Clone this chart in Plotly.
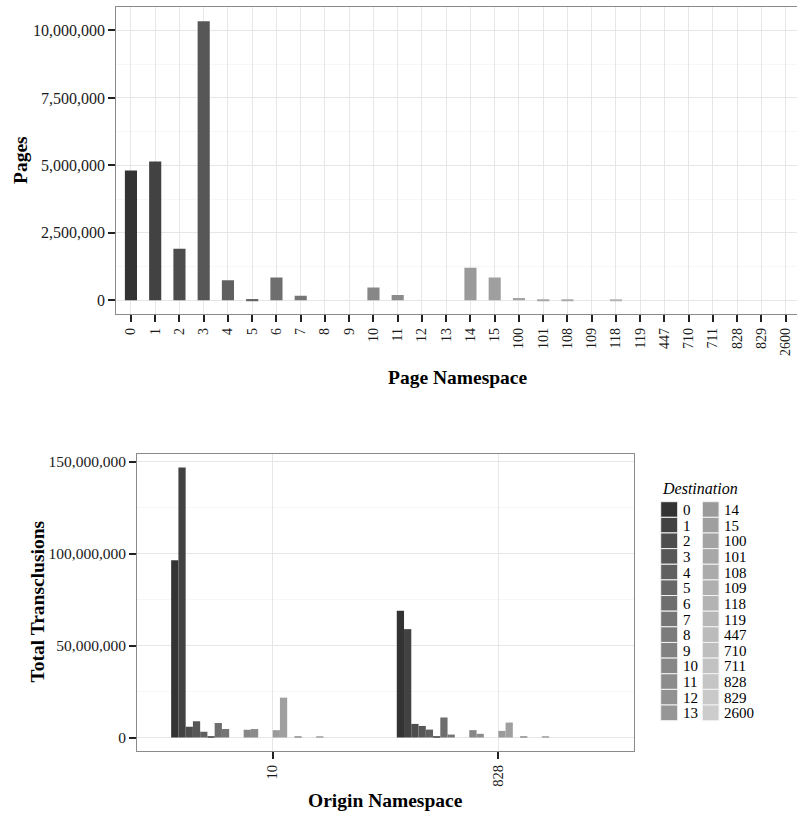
import plotly.graph_objects as go

# Namespaces (categories) shared by both panels
namespaces = ["0", "1", "2", "3", "4", "5", "6", "7", "8", "9", "10", "11", "12", "13",
              "14", "15", "100", "101", "108", "109", "118", "119", "447", "710", "711",
              "828", "829", "2600"]

# Pages per namespace
pages = [4810000, 5140000, 1910000, 10340000, 740000, 50000, 850000, 170000, 0, 0,
         480000, 200000, 0, 0, 1210000, 850000, 87000, 20000, 5000, 0, 20000,
         0, 0, 0, 0, 0, 0, 0]

# Origin namespaces for the transclusion panel
origins = ["10", "828"]

# Total transclusions per destination namespace, one list per origin
transclusions_from_10 = [96500000, 147000000, 5900000, 8800000, 3100000, 300000, 7900000,
                         4600000, 0, 0, 4200000, 4600000, 0, 0, 4000000, 21700000, 0,
                         700000, 0, 0, 500000, 0, 0, 0, 0, 0, 0, 0]
transclusions_from_828 = [69000000, 59000000, 7400000, 6300000, 4300000, 500000, 10900000,
                          1600000, 0, 0, 4000000, 2000000, 0, 0, 3600000, 8100000, 0,
                          500000, 0, 0, 400000, 0, 0, 0, 0, 0, 0, 0]

# Tick labels
pages_ticks = [0, 2500000, 5000000, 7500000, 10000000]
trans_ticks = [0, 50000000, 100000000, 150000000]

W, H = 797, 813
FONT = "Liberation Serif"


def grey_palette(n, start=0.2, end=0.8, gamma=2.2):
    lo, hi = start ** gamma, end ** gamma
    out = []
    for i in range(n):
        v = (lo + (hi - lo) * i / (n - 1)) ** (1 / gamma)
        c = int(round(v * 255))
        out.append(f"#{c:02x}{c:02x}{c:02x}")
    return out


colors = grey_palette(len(namespaces))


def px_x(x):
    return x / W


def px_y(y):
    return 1 - y / H


fig = go.Figure()

# ---- top panel: pages per namespace ----
fig.add_trace(go.Bar(
    x=namespaces, y=pages, width=0.5, marker=dict(color=colors, line=dict(width=0)),
    xaxis="x", yaxis="y", showlegend=False,
))

# ---- bottom panel: transclusions by origin, dodged by destination ----
for i, ns in enumerate(namespaces):
    fig.add_trace(go.Bar(
        x=origins, y=[transclusions_from_10[i], transclusions_from_828[i]],
        name=ns, marker=dict(color=colors[i], line=dict(width=0)),
        xaxis="x2", yaxis="y2", showlegend=False,
    ))

pmax = max(pages)
tmax = max(max(transclusions_from_10), max(transclusions_from_828))

grid_major = "#e6e6e6"
grid_minor = "#f7f7f7"
border = "#8a8a8a"
text_col = "#1a1a1a"

common_axis = dict(
    showline=True, linecolor=border, linewidth=1.3,
    ticks="outside", ticklen=7, tickwidth=1.6, tickcolor="#222",
    zeroline=False, gridcolor=grid_major, gridwidth=1,
)

fig.update_layout(
    width=W, height=H,
    margin=dict(l=0, r=0, t=0, b=0),
    paper_bgcolor="white", plot_bgcolor="white",
    barmode="group", bargap=0.1, bargroupgap=0,
    font=dict(family=FONT),
    xaxis=dict(
        **common_axis, mirror=True,
        domain=[px_x(116.4), 1.0], anchor="y", type="category",
        categoryorder="array", categoryarray=namespaces,
        range=[-0.6, 27.466], tickangle=-90,
        tickfont=dict(family=FONT, size=14, color=text_col),
        showgrid=True,
    ),
    yaxis=dict(
        **common_axis, mirror=False,
        domain=[px_y(314.3), px_y(7.3)], anchor="x",
        range=[-0.05 * pmax, 1.05 * pmax],
        tickvals=pages_ticks, tickformat=",d",
        tickfont=dict(family=FONT, size=16, color=text_col),
        minor=dict(tickvals=[1250000, 3750000, 6250000, 8750000], showgrid=True,
                   gridcolor=grid_minor, ticks=""),
    ),
    xaxis2=dict(
        **common_axis, mirror=True,
        domain=[px_x(137.3), px_x(633.7)], anchor="y2", type="category",
        categoryorder="array", categoryarray=origins,
        range=[-0.6, 1.6], tickangle=-90,
        tickfont=dict(family=FONT, size=14.5, color=text_col),
        showgrid=True,
    ),
    yaxis2=dict(
        **common_axis, mirror=True,
        domain=[px_y(751), px_y(454)], anchor="x2",
        range=[-0.05 * tmax, 1.05 * tmax],
        tickvals=trans_ticks, tickformat=",d",
        tickfont=dict(family=FONT, size=15.5, color=text_col),
        minor=dict(tickvals=[25000000, 75000000, 125000000], showgrid=True,
                   gridcolor=grid_minor, ticks=""),
    ),
)

# axis titles
title_font = dict(family=FONT, size=19.5, color="#000")
annotations = [
    dict(text="<b>Pages</b>", x=px_x(20), y=px_y(160), textangle=-90),
    dict(text="<b>Page Namespace</b>", x=px_x(458), y=px_y(378)),
    dict(text="<b>Total Transclusions</b>", x=px_x(36.5), y=px_y(602), textangle=-90),
    dict(text="<b>Origin Namespace</b>", x=px_x(385), y=px_y(800)),
]
for a in annotations:
    fig.add_annotation(xref="paper", yref="paper", xanchor="center", yanchor="middle",
                       showarrow=False, font=title_font, **a)

# legend for destination namespaces, laid out in two columns
fig.add_annotation(xref="paper", yref="paper", x=px_x(659.5), y=px_y(489),
                   xanchor="left", yanchor="middle", showarrow=False,
                   text="<i>Destination</i>", font=dict(family=FONT, size=16, color="#000"))
rows = 14
row_h = 15.64
top0 = 501.7
cols = [(660.7, 677.7, 680.5), (702.3, 719.0, 721.5)]
for i, ns in enumerate(namespaces):
    c, r = divmod(i, rows)
    x0, x1, lx = cols[c]
    y0 = top0 + r * row_h
    fig.add_shape(type="rect", xref="paper", yref="paper",
                  x0=px_x(x0), x1=px_x(x1), y0=px_y(y0), y1=px_y(y0 + row_h),
                  fillcolor=colors[i], line=dict(color="#f2f2f2", width=1))
    fig.add_annotation(xref="paper", yref="paper", x=px_x(lx), y=px_y(y0 + row_h / 2 + 0.5),
                       xanchor="left", yanchor="middle", showarrow=False, text=ns,
                       font=dict(family=FONT, size=15, color="#000"))

fig.write_html("out.html")
